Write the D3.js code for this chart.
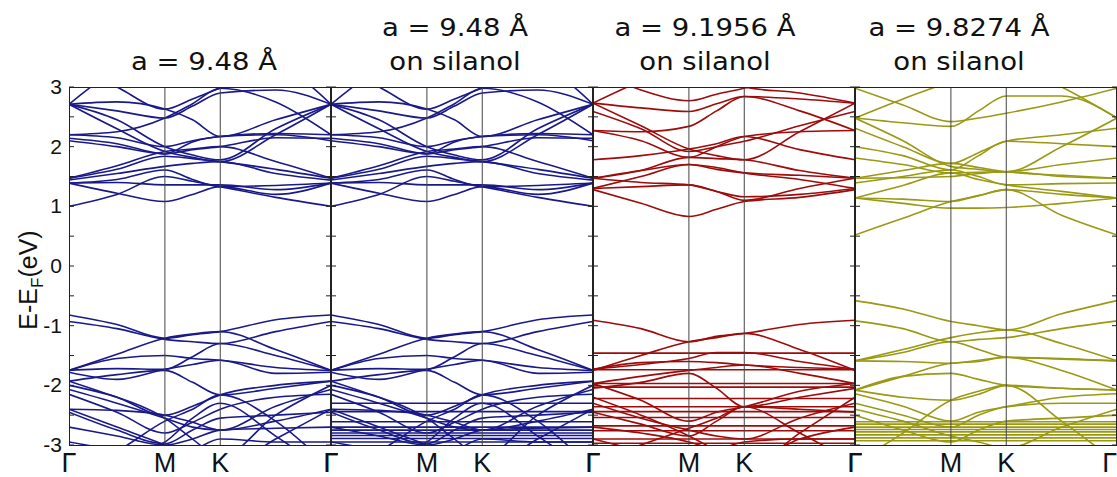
<!DOCTYPE html>
<html><head><meta charset="utf-8">
<script src="https://cdn.jsdelivr.net/npm/d3@7"></script>
<style>body{margin:0;background:#fff}svg{display:block}</style>
</head><body><svg id="c" width="1117" height="477"></svg>
<script>
// ---- data ----
const kDist = [0, 0.2887, 0.5774, 0.7440, 0.9107, 1.2440, 1.5774];
const kLabelPos = [0, 0.5774, 0.9107, 1.5774];
const kLabels = ["Γ", "M", "K", "Γ"];
const yMajor = [3, 2, 1, 0, -1, -2, -3];
const yTickVals = [3, 2.5, 2, 1.5, 1, 0.5, 0, -0.5, -1, -1.5, -2, -2.5, -3];
const titleLine1 = ["", "a = 9.48 Å", "a = 9.1956 Å", "a = 9.8274 Å"];
const titleLine2 = ["a = 9.48 Å", "on silanol", "on silanol", "on silanol"];
const panelColors = ["#19198a", "#19198a", "#9e0b0b", "#9a9913"];

// bands at k-points Γ, ½ΓM, M, ½MK, K, ½KΓ, Γ  (eV)
const bands948 = [
  [2.71, 3.30, 3.60, 3.40, 3.20, 3.30, 2.71],
  [3.40, 3.00, 2.63, 2.80, 2.98, 3.20, 3.40],
  [2.71, 2.60, 2.48, 2.68, 2.90, 2.95, 2.71],
  [2.71, 2.30, 1.92, 1.82, 1.75, 2.20, 2.71],
  [2.71, 2.45, 2.00, 1.86, 1.78, 2.30, 2.71],
  [2.71, 2.75, 2.63, 2.45, 2.17, 2.45, 2.71],
  [2.20, 2.25, 2.48, 2.72, 2.98, 2.75, 2.20],
  [2.14, 2.05, 1.88, 1.95, 2.00, 2.15, 2.14],
  [2.10, 2.00, 1.88, 2.08, 2.17, 2.20, 2.10],
  [2.20, 2.15, 2.00, 2.10, 2.17, 2.22, 2.20],
  [1.47, 1.68, 1.92, 1.96, 2.00, 1.75, 1.47],
  [1.47, 1.62, 1.84, 1.80, 1.75, 1.62, 1.47],
  [1.44, 1.55, 1.67, 1.72, 1.75, 1.55, 1.44],
  [1.39, 1.45, 1.61, 1.45, 1.33, 1.35, 1.39],
  [1.39, 1.40, 1.36, 1.36, 1.36, 1.28, 1.39],
  [1.39, 1.22, 1.08, 1.20, 1.33, 1.20, 1.39],
  [1.00, 1.20, 1.50, 1.42, 1.33, 1.15, 1.00],
  [-0.82, -0.98, -1.21, -1.15, -1.10, -0.90, -0.82],
  [-0.93, -1.05, -1.23, -1.27, -1.30, -1.10, -0.93],
  [-1.75, -1.48, -1.21, -1.14, -1.10, -1.40, -1.75],
  [-1.75, -1.55, -1.50, -1.55, -1.58, -1.70, -1.75],
  [-1.75, -1.72, -1.73, -1.52, -1.30, -1.50, -1.75],
  [-1.78, -1.90, -1.73, -1.65, -1.58, -1.80, -1.78],
  [-1.93, -2.20, -2.50, -2.35, -2.16, -2.00, -1.93],
  [-1.93, -1.82, -1.75, -1.95, -2.16, -2.05, -1.93],
  [-2.07, -2.30, -2.55, -2.70, -2.75, -2.35, -2.07],
  [-2.15, -2.45, -2.80, -2.62, -2.40, -2.20, -2.15],
  [-2.40, -2.42, -2.50, -2.62, -2.75, -2.60, -2.40],
  [-2.40, -2.70, -3.00, -3.20, -3.40, -2.90, -2.40],
  [-2.45, -2.75, -2.98, -2.75, -2.55, -2.50, -2.45],
  [-2.70, -2.85, -3.00, -2.90, -2.75, -2.72, -2.70],
  [-3.40, -3.10, -2.60, -2.40, -2.16, -2.60, -3.40],
  [-3.50, -3.20, -2.95, -2.55, -2.30, -2.85, -3.50],
  [-2.95, -3.10, -3.30, -3.10, -2.90, -2.95, -2.95],
  [-2.00, -2.20, -2.55, -2.90, -3.20, -2.50, -2.00]
];
const bands91956 = [
  [2.73, 3.10, 3.40, 3.20, 3.00, 2.90, 2.73],
  [3.30, 2.95, 2.77, 2.88, 2.98, 3.20, 3.30],
  [2.73, 2.65, 2.59, 2.72, 2.84, 2.80, 2.73],
  [2.73, 2.35, 1.96, 1.85, 1.78, 2.25, 2.73],
  [2.59, 2.30, 1.92, 2.00, 2.09, 2.35, 2.59],
  [2.27, 2.25, 2.34, 2.60, 2.84, 2.60, 2.27],
  [2.27, 2.10, 1.82, 2.00, 2.17, 2.25, 2.27],
  [1.78, 1.85, 1.96, 2.05, 2.17, 1.95, 1.78],
  [1.47, 1.60, 1.82, 1.80, 1.78, 1.60, 1.47],
  [1.47, 1.60, 1.70, 1.62, 1.56, 1.52, 1.47],
  [1.30, 1.50, 1.70, 1.65, 1.56, 1.45, 1.30],
  [1.30, 1.33, 1.36, 1.25, 1.16, 1.20, 1.30],
  [1.28, 1.05, 0.83, 0.95, 1.08, 1.15, 1.28],
  [1.47, 1.40, 1.36, 1.25, 1.10, 1.30, 1.47],
  [-0.91, -1.05, -1.27, -1.18, -1.13, -0.98, -0.91],
  [-1.75, -1.50, -1.27, -1.20, -1.13, -1.40, -1.75],
  [-1.73, -1.62, -1.60, -1.62, -1.66, -1.70, -1.73],
  [-1.73, -1.65, -1.55, -1.45, -1.45, -1.60, -1.73],
  [-1.97, -1.85, -1.75, -1.70, -1.66, -1.80, -1.97],
  [-1.97, -2.25, -2.60, -2.45, -2.36, -2.10, -1.97],
  [-2.05, -1.95, -1.80, -2.05, -2.36, -2.20, -2.05],
  [-2.30, -2.55, -2.75, -2.85, -2.90, -2.55, -2.30],
  [-2.45, -2.65, -2.85, -2.60, -2.36, -2.40, -2.45],
  [-2.70, -2.80, -2.95, -3.10, -3.30, -2.90, -2.70],
  [-3.30, -3.00, -2.72, -2.55, -2.36, -2.80, -3.30],
  [-2.90, -3.10, -3.30, -3.10, -2.95, -2.90, -2.90],
  [-2.20, -2.50, -2.85, -3.10, -3.40, -2.80, -2.20]
];
const bands98274 = [
  [2.98, 2.70, 2.42, 2.48, 2.56, 2.75, 2.98],
  [2.48, 2.80, 3.10, 3.30, 3.40, 3.00, 2.48],
  [2.48, 2.40, 2.34, 2.60, 2.85, 2.85, 2.48],
  [2.31, 2.00, 1.72, 1.90, 2.09, 2.20, 2.31],
  [2.48, 2.10, 1.67, 1.62, 1.58, 2.00, 2.48],
  [2.00, 1.85, 1.61, 1.85, 2.09, 2.05, 2.00],
  [1.81, 1.70, 1.56, 1.57, 1.58, 1.70, 1.81],
  [1.47, 1.48, 1.50, 1.55, 1.58, 1.50, 1.47],
  [1.47, 1.60, 1.72, 1.65, 1.58, 1.52, 1.47],
  [1.39, 1.50, 1.61, 1.50, 1.36, 1.38, 1.39],
  [1.14, 1.35, 1.56, 1.45, 1.36, 1.25, 1.14],
  [1.14, 1.05, 0.97, 0.97, 0.98, 1.05, 1.14],
  [1.14, 1.12, 1.08, 1.18, 1.28, 1.20, 1.14],
  [0.52, 0.80, 1.08, 1.18, 1.28, 0.85, 0.52],
  [-0.58, -0.72, -0.93, -1.00, -1.07, -0.80, -0.58],
  [-0.92, -1.05, -1.27, -1.23, -1.20, -1.05, -0.92],
  [-1.59, -1.40, -1.20, -1.12, -1.07, -1.30, -1.59],
  [-1.59, -1.45, -1.27, -1.40, -1.53, -1.55, -1.59],
  [-1.59, -1.60, -1.63, -1.58, -1.53, -1.56, -1.59],
  [-2.08, -1.85, -1.63, -1.60, -1.53, -1.75, -2.08],
  [-2.08, -1.85, -1.80, -1.90, -2.00, -2.05, -2.08],
  [-2.08, -2.20, -2.25, -2.15, -2.00, -2.05, -2.08],
  [-2.14, -2.35, -2.60, -2.45, -2.36, -2.20, -2.14],
  [-2.30, -2.50, -2.70, -2.50, -2.36, -2.30, -2.30],
  [-2.40, -2.60, -2.85, -2.95, -3.05, -2.70, -2.40],
  [-3.30, -2.80, -2.25, -2.10, -2.00, -2.60, -3.30],
  [-2.50, -2.75, -2.95, -2.75, -2.60, -2.55, -2.50]
];
const flat948 = [];
const flat948silanol = [-2.30, -2.44, -2.61, -2.70, -2.75, -2.80, -2.84, -2.89, -2.95];
const flat91956 = [-1.46, -1.74, -1.97, -2.03, -2.22, -2.36, -2.44, -2.54, -2.68, -2.76, -2.90, -2.97];
const flat98274 = [-2.61, -2.65, -2.70, -2.74, -2.78, -2.83, -2.88, -2.93];

const panelBands = [bands948, bands948, bands91956, bands98274];
const panelFlat = [flat948, flat948silanol, flat91956, flat98274];

// ---- drawing ----
const svg = d3.select("#c");
const panelX = d3.scaleLinear().domain([0, 4]).range([69, 1117]);
const y = d3.scaleLinear().domain([-3, 3]).range([445, 87]);
const kMax = kDist[kDist.length - 1];

const titleX = [204, 455, 705, 959];

for (let p = 0; p < 4; p++) {
  const x0 = panelX(p), x1 = panelX(p + 1);
  const x = d3.scaleLinear().domain([0, kMax]).range([x0, x1]);
  const g = svg.append("g");
  g.append("clipPath").attr("id", "clip" + p)
    .append("rect").attr("x", x0).attr("y", y(3)).attr("width", x1 - x0).attr("height", y(-3) - y(3));
  const lines = g.append("g").attr("clip-path", `url(#clip${p})`);
  const line = d3.line().x((d, i) => x(kDist[i])).y(d => y(d)).curve(d3.curveMonotoneX);
  lines.selectAll("line.flat").data(panelFlat[p]).join("line")
    .attr("x1", x(0)).attr("x2", x(kMax)).attr("y1", d => y(d)).attr("y2", d => y(d))
    .attr("stroke", panelColors[p]).attr("stroke-width", 1.6);
  lines.selectAll("path.band").data(panelBands[p]).join("path")
    .attr("class", "band").attr("d", line)
    .attr("fill", "none").attr("stroke", panelColors[p]).attr("stroke-width", 1.6);
  // high symmetry lines
  g.selectAll("line.sym").data(kLabelPos.slice(1, 3)).join("line")
    .attr("x1", d => x(d)).attr("x2", d => x(d)).attr("y1", y(3)).attr("y2", y(-3))
    .attr("stroke", "#444").attr("stroke-width", 1);
  // ticks (inside, both sides)
  g.selectAll("line.tl").data(yTickVals).join("line")
    .attr("x1", x0).attr("x2", x0 + 5).attr("y1", d => y(d)).attr("y2", d => y(d))
    .attr("stroke", "#222").attr("stroke-width", 1);
  g.selectAll("line.tr").data(yTickVals).join("line")
    .attr("x1", x1 - 5).attr("x2", x1).attr("y1", d => y(d)).attr("y2", d => y(d))
    .attr("stroke", "#222").attr("stroke-width", 1);
  g.append("rect").attr("x", x0 + 0.5).attr("y", y(3) + 0.5)
    .attr("width", x1 - x0 - 1).attr("height", y(-3) - y(3))
    .attr("fill", "none").attr("stroke", "#222").attr("stroke-width", 1);
  // k labels (last one of the last panel hugs the page edge)
  g.selectAll("text.k").data(kLabels).join("text")
    .attr("x", (d, i) => x(kLabelPos[i]))
    .attr("y", 472)
    .attr("text-anchor", (d, i) => (p === 3 && i === 3) ? "end" : "middle")
    .attr("font-family", "Liberation Sans, Arial, sans-serif")
    .attr("font-size", 27).attr("fill", "#111").text(d => d);
  // titles
  const tf = "DejaVu Sans, sans-serif";
  if (titleLine1[p]) {
    g.append("text").attr("x", titleX[p]).attr("y", 36).attr("text-anchor", "middle")
      .attr("font-family", tf).attr("font-size", 25).attr("fill", "#111")
      .attr("transform", `translate(${titleX[p]},0) scale(1.1,1) translate(${-titleX[p]},0)`)
      .text(titleLine1[p]);
  }
  g.append("text").attr("x", titleX[p]).attr("y", 70).attr("text-anchor", "middle")
    .attr("font-family", tf).attr("font-size", 25).attr("fill", "#111")
    .attr("transform", `translate(${titleX[p]},0) scale(1.1,1) translate(${-titleX[p]},0)`)
    .text(titleLine2[p]);
}

// y tick labels
svg.selectAll("text.yl").data(yMajor).join("text")
  .attr("x", 62).attr("y", d => y(d) + 7).attr("text-anchor", "end")
  .attr("font-family", "Liberation Sans, Arial, sans-serif").attr("font-size", 21)
  .attr("fill", "#111").text(d => d);

// y axis title
const yt = svg.append("text").attr("transform", "translate(37,280) rotate(-90)")
  .attr("text-anchor", "middle").attr("font-family", "Liberation Sans, Arial, sans-serif")
  .attr("font-size", 25).attr("fill", "#111");
yt.append("tspan").text("E-E");
yt.append("tspan").attr("font-size", 17).attr("dy", 6).text("F");
yt.append("tspan").attr("dy", -6).text("(eV)");
</script></body></html>
